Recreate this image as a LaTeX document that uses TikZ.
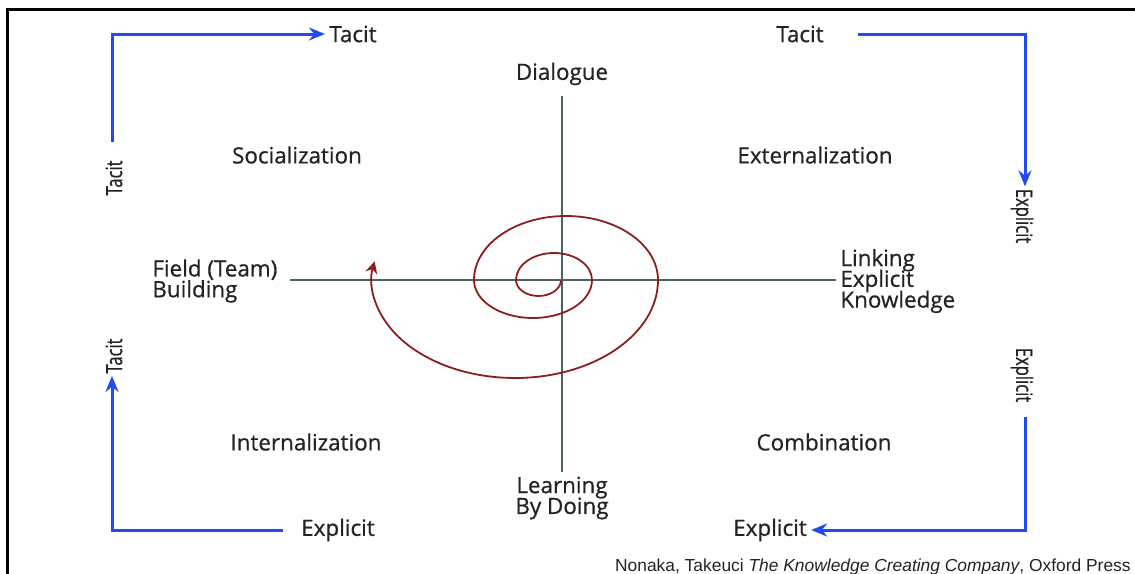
\documentclass[tikz,border=0pt]{standalone}
\usepackage{fontspec}
\setmainfont{Open Sans}[FakeBold=0.7]
\newfontfamily\citefont{Liberation Sans}
\usepackage{tikz}
\usetikzlibrary{arrows, arrows.meta, positioning}
\tikzset{>={Stealth[length=8pt, width=6.5pt]}}
\definecolor{flowblue}{RGB}{35,75,245}
\definecolor{axisgrey}{RGB}{70,100,100}
\definecolor{spiralred}{RGB}{140,30,30}
\definecolor{textgrey}{RGB}{35,35,35}
\newcommand{\narrow}[1]{\scalebox{0.74}[1]{#1}}
\tikzset{
  lbl/.style={text=textgrey, inner sep=2pt},
  side/.style={lbl, inner sep=1pt},
  flow/.style={draw=flowblue, line width=1.5pt},
  axis/.style={draw=axisgrey, line width=1.2pt},
  spiral/.style={draw=spiralred, line width=0.9pt},
}
\setlength{\lineskiplimit}{-10pt}

\begin{document}
\begin{tikzpicture}[x=0.5pt, y=-0.5pt, font=\fontsize{11.2}{10.4}\selectfont]
    \useasboundingbox (0,0) rectangle (1135,573);
    \draw [line width=1.5pt] (7.5,600) |- (1160,9.5);

    % corner labels
    \node (T1) [lbl] at (353,34) {Tacit};
    \node (T2) [side, rotate=90] at (114,178) {\narrow{Tacit}};
    \node (T3) [lbl] at (800,34) {Tacit};
    \node (E1) [side, rotate=-90] at (1022,216) {\narrow{Explicit}};
    \node (E2) [side, rotate=-90] at (1022,375) {\narrow{Explicit}};
    \node (E3) [lbl] at (770,530) {Explicit};
    \node (E4) [lbl] at (338,530) {Explicit};
    \node (T4) [side, rotate=90] at (114,356) {\narrow{Tacit}};

    % quadrants
    \node (Soc) [lbl] at (297,155) {Socialization};
    \node (Ext) [lbl] at (815,155) {Externalization};
    \node (Int) [lbl] at (306,442) {Internalization};
    \node (Com) [lbl] at (824,442) {Combination};

    % axis ends
    \node (Dia) [lbl] at (562,74) {Dialogue};
    \node (Lrn) [lbl, align=center] at (562,498) {Learning\\By Doing};
    \node (Fld) [lbl, align=left, anchor=west] at (148,281) {Field (Team)\\Building};
    \node (Lnk) [lbl, align=left, anchor=west] at (836,281) {Linking\\Explicit\\Knowledge};

    \draw [flow, ->, shorten <=8pt] (T2.east -| 112,0) |- (T1.west);
    \draw [flow, ->, shorten <=15pt] (T3.east) -| (E1.west -| 1025,0);
    \draw [flow, ->, shorten <=6pt] (E2.east -| 1025,0) |- (E3.east);
    \draw [flow, ->, shorten <=7pt] (E4.west) -| (T4.west -| 112,0);

    \draw [axis, shorten <=3pt] (Dia.south) -- (Lrn.north);
    \draw [axis, shorten <=4pt] (Fld.east |- 0,280) -- (Lnk.west |- 0,280);

    % spiral, half turns
    \coordinate (S) at (561,280);
    \draw [spiral, -{Stealth[length=6pt, width=6pt]}] (S)
        arc [start angle=0, end angle=180, x radius=22.5, y radius=16]
        arc [start angle=180, end angle=360, x radius=38, y radius=27]
        arc [start angle=0, end angle=180, x radius=59, y radius=38]
        arc [start angle=180, end angle=360, x radius=92, y radius=64]
        arc [start angle=0, end angle=191, x radius=143, y radius=98];

    \node (Src) [anchor=east, inner sep=0pt, text=textgrey, font=\citefont\fontsize{8.7}{9}\selectfont]
        at (1131,567) {Nonaka, Takeuci \textit{The Knowledge Creating Company}, Oxford Press};
\end{tikzpicture}
\end{document}
